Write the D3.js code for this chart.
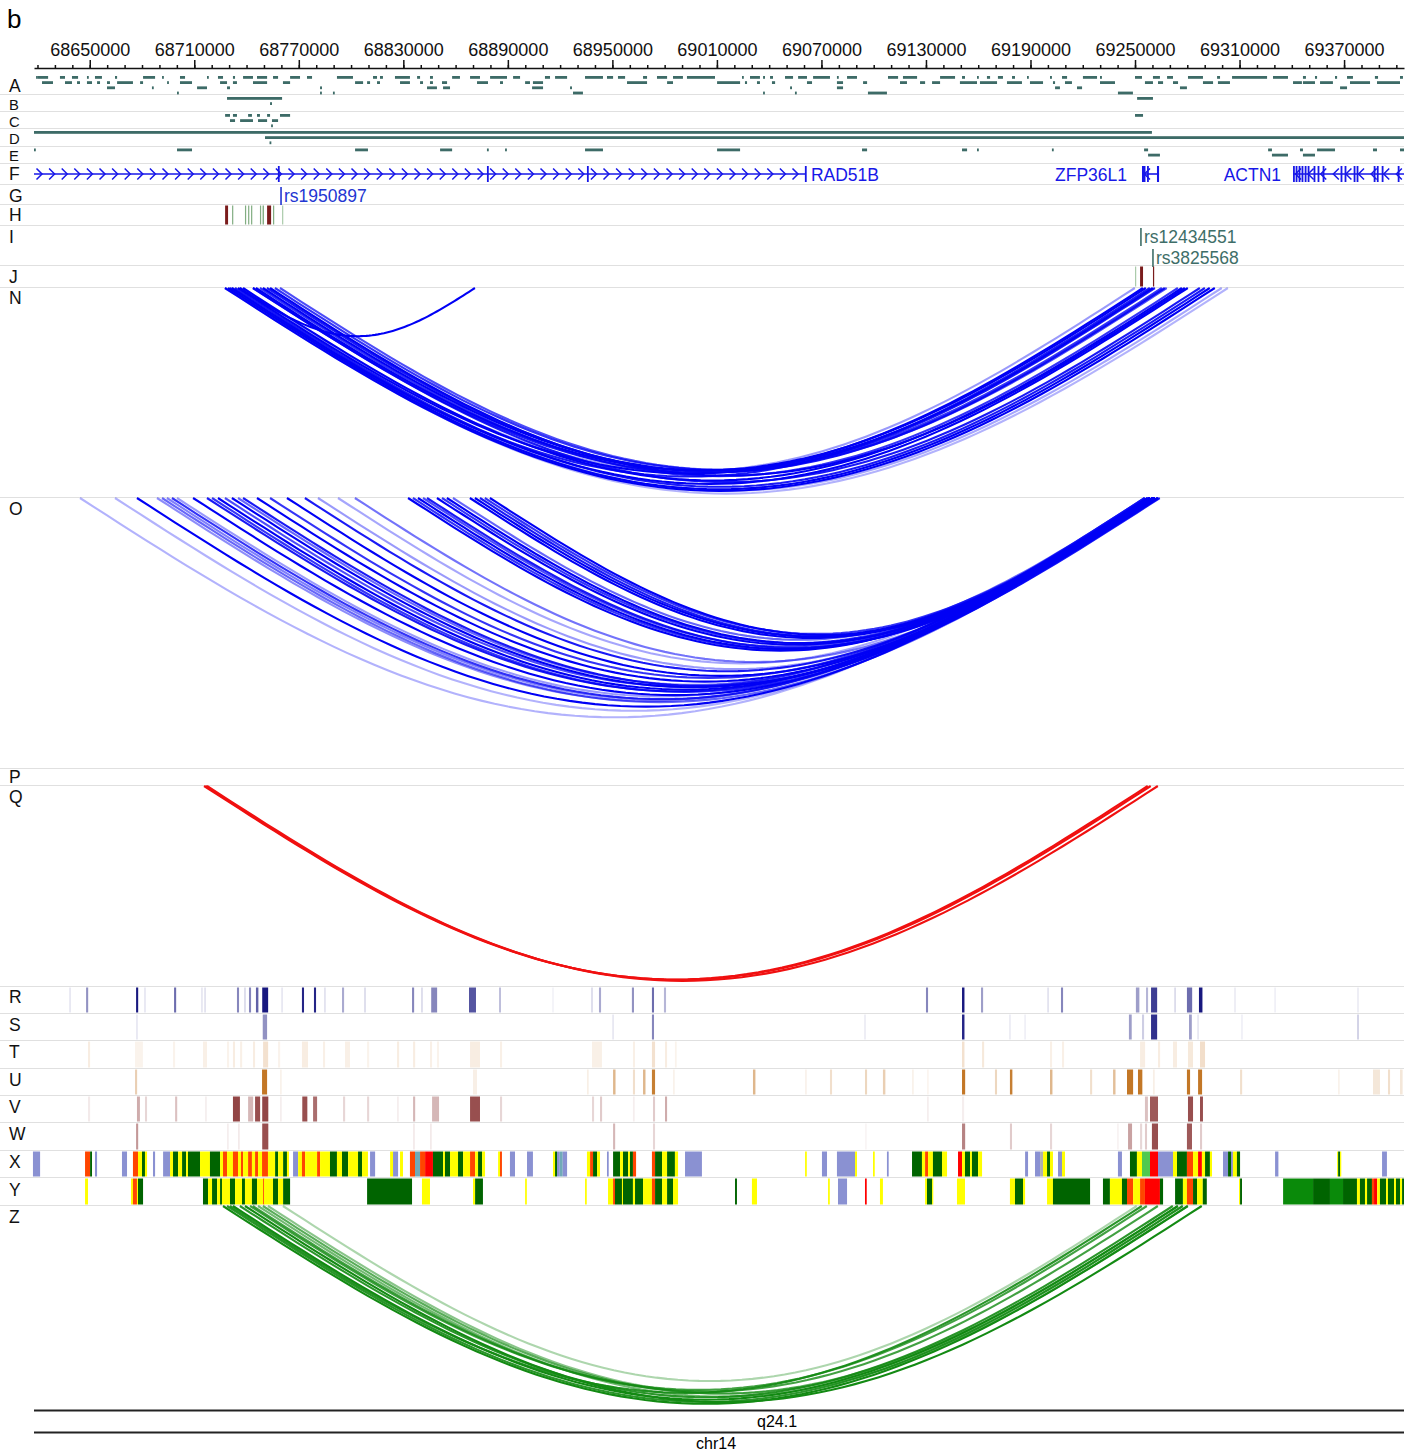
<!DOCTYPE html>
<html><head><meta charset="utf-8">
<script src="https://cdn.jsdelivr.net/npm/d3@7"></script>
<style>
body{margin:0;background:#fff}
svg{display:block}
text{font-family:Arial,"Liberation Sans",Helvetica,sans-serif}
</style></head>
<body><svg id="chart" width="1414" height="1452"></svg>
<script>
// ---------------- DATA (positions in kb on chr14) ----------------
const region = [68618.0, 69404.4];
const majorTicks = [68650,68710,68770,68830,68890,68950,69010,69070,69130,69190,69250,69310,69370];
const minorTicks = d3.range(68620, 69401, 10);
const trackLabels = ["A","B","C","D","E","F","G","H","I","J","N","O","P","Q","R","S","T","U","V","W","X","Y","Z"];

// [start, end, row]
const trackA = [
[68619.2,68619.7,0],[68620.3,68626.1,0],[68632.9,68635.8,0],[68639.8,68643.3,0],[68648.4,68649.0,0],[68653.0,68657.0,0],[68664.5,68665.7,0],[68680.6,68687.5,0],[68691.5,68692.1,0],[68701.8,68704.7,0],[68717.3,68717.9,0],[68723.6,68726.5,0],[68732.2,68733.4,0],[68738.0,68743.7,0],[68746.0,68751.8,0],[68755.2,68758.1,0],[68765.0,68770.7,0],[68774.7,68777.6,0],[68791.9,68801.1,0],[68812.6,68814.9,0],[68816.6,68818.3,0],[68825.2,68833.8,0],[68837.9,68839.6,0],[68845.3,68847.0,0],[68858.0,68862.5,0],[68868.3,68874.0,0],[68879.8,68889.5,0],[68893.0,68897.0,0],[68911.3,68914.2,0],[68917.1,68924.0,0],[68934.3,68944.6,0],[68946.9,68950.4,0],[68953.2,68957.3,0],[68967.6,68969.9,0],[68975.6,68981.4,0],[68984.8,68990.5,0],[68992.8,69008.9,0],[69024.4,69025.0,0],[69029.0,69034.7,0],[69036.5,69037.6,0],[69040.5,69042.2,0],[69049.1,69053.7,0],[69056.6,69061.7,0],[69065.2,69074.9,0],[69078.9,69079.5,0],[69084.7,69090.4,0],[69108.2,69114.0,0],[69116.8,69124.9,0],[69138.1,69146.7,0],[69150.7,69152.4,0],[69159.3,69159.9,0],[69165.0,69166.8,0],[69171.3,69174.2,0],[69179.4,69181.1,0],[69188.0,69188.6,0],[69201.2,69202.3,0],[69208.1,69211.0,0],[69220.1,69228.2,0],[69229.9,69231.0,0],[69250.0,69254.0,0],[69260.3,69264.3,0],[69268.4,69271.8,0],[69280.4,69289.0,0],[69297.1,69298.8,0],[69305.7,69325.8,0],[69329.2,69337.8,0],[69346.4,69348.1,0],[69353.3,69354.5,0],[69364.8,69366.0,0],[69371.7,69375.1,0],[69387.7,69389.5,0],[69402.1,69403.8,0],
[68622.6,68628.9,1],[68635.8,68639.8,1],[68642.7,68644.4,1],[68648.4,68651.3,1],[68654.2,68655.9,1],[68659.9,68661.6,1],[68665.7,68674.8,1],[68678.9,68680.6,1],[68694.4,68694.9,1],[68701.8,68708.7,1],[68724.8,68728.8,1],[68732.2,68734.5,1],[68743.7,68751.8,1],[68760.9,68765.0,1],[68802.3,68806.9,1],[68809.2,68810.9,1],[68814.9,68816.6,1],[68828.1,68833.8,1],[68839.6,68841.3,1],[68845.3,68847.0,1],[68852.2,68855.1,1],[68872.3,68878.6,1],[68885.5,68887.2,1],[68899.9,68902.7,1],[68904.4,68910.2,1],[68958.4,68969.9,1],[68981.4,68984.8,1],[69010.1,69023.3,1],[69026.1,69027.3,1],[69033.0,69034.7,1],[69041.6,69043.4,1],[69061.7,69064.6,1],[69078.9,69082.4,1],[69093.9,69096.2,1],[69115.1,69119.1,1],[69126.6,69129.5,1],[69133.5,69138.1,1],[69149.5,69159.3,1],[69161.0,69170.8,1],[69176.5,69185.1,1],[69189.7,69197.2,1],[69202.9,69204.1,1],[69209.8,69213.8,1],[69229.9,69238.5,1],[69255.7,69260.3,1],[69263.2,69266.1,1],[69271.8,69274.7,1],[69289.0,69294.8,1],[69297.6,69304.5,1],[69340.7,69345.8,1],[69346.4,69353.3,1],[69356.2,69363.6,1],[69373.4,69384.9,1],[69388.9,69402.1,1],
[68659.9,68664.5,2],[68685.7,68686.3,2],[68711.6,68717.3,2],[68728.8,68730.5,2],[68782.2,68783.3,2],[68843.6,68849.3,2],[68852.8,68856.8,2],[68903.9,68910.2,2],[68925.7,68926.8,2],[69052.0,69053.1,2],[69078.9,69082.4,2],[69204.1,69206.9,2],[69216.7,69219.6,2],[69275.8,69279.8,2],[69367.7,69371.7,2],
[68700.1,68700.7,3],[68782.2,68782.8,3],[68789.6,68790.2,3],[68927.4,68933.1,3],[69036.5,69037.1,3],[69054.8,69055.4,3],[69096.7,69107.6,3],[69240.2,69248.8,3]
];
const trackB = [[68728.8,68760.4,0],[68753.5,68754.6,1],[69251.2,69260.3,0]];
const trackC = [[68727.7,68730.5,0],[68732.2,68734.5,0],[68740.9,68743.1,0],[68746.0,68747.7,0],[68751.8,68753.5,0],[68759.2,68765.0,0],[69250.0,69254.6,0],
[68730.5,68733.4,1],[68736.3,68743.7,1],[68746.6,68751.8,1],[68754.6,68758.1,1],[68754.1,68754.7,2]];
const trackD = [[68618.0,69259.7,0],[68750.6,69404.4,1],[68753.2,68754.2,2]];
const trackE = [[68618.0,68618.6,0],[68700.1,68708.7,0],[68802.3,68809.7,0],[68851.1,68858.0,0],[68878.0,68879.0,0],[68888.4,68889.4,0],[68934.3,68944.6,0],[69010.1,69023.3,0],[69093.3,69096.2,0],[69150.7,69153.6,0],[69159.3,69160.0,0],[69202.3,69203.0,0],[69255.2,69257.5,0],[69326.4,69328.6,0],[69344.7,69346.4,0],[69354.5,69364.8,0],[69386.6,69388.9,0],[69402.1,69404.4,0],
[69257.5,69264.3,1],[69328.6,69337.8,1],[69346.4,69353.3,1]];

// genes
const geneNames = ["RAD51B","ZFP36L1","ACTN1"];
const geneStart = [68618.0, 69254.0, 69340.7];
const geneEnd = [69061.1, 69263.8, 69404.4];
const geneStrand = ["+","-","-"];
const geneExons = [
  [[68758.0,68758.6],[68878.0,68878.6],[68935.4,68936.0],[69060.5,69061.1]],
  [[69254.0,69256.0],[69256.9,69257.6],[69262.6,69263.8]],
  [[69340.7,69341.5],[69342.2,69343.0],[69343.9,69344.7],[69345.6,69346.4],[69347.4,69348.2],[69349.1,69349.9],[69352.5,69353.3],[69354.8,69355.6],[69357.7,69358.3],[69368.0,69368.8],[69370.3,69371.1],[69375.5,69376.3],[69377.2,69378.0],[69387.0,69387.8],[69388.8,69389.6],[69391.6,69392.2],[69400.8,69401.4]]
];

// SNPs
const snpG = [{id:"rs1950897", pos:68759.8}];
const snpI = [{id:"rs12434551", pos:69253.4},{id:"rs3825568", pos:69260.3}];
// [pos, length, class]  r = dark red, g = green, l = light green
const trackH = [[68727.7,1.7,"r"],[68731.7,0.6,"g"],[68739.1,0.6,"g"],[68740.9,0.6,"g"],[68742.6,0.6,"g"],[68747.7,0.6,"g"],[68749.2,0.8,"g"],[68751.8,2.3,"r"],[68755.2,0.6,"g"],[68760.4,0.6,"l"]];
const trackJ = [[69250.0,0.6,"l"],[69252.9,1.7,"r"],[69260.3,0.7,"r"]];

// interaction arcs [start, end, score]
const arcsN = [[68727.6,69295.8,1],[68729.4,69292.9,1],[68730.5,69258.5,.9],[68731.6,69280.3,1],[68733.4,69290.1,.9],[68735.1,69254.5,1],[68738.0,69276.9,1],[68743.7,69287.2,.9],[68745.4,69256.2,1],[68747.7,69274.6,.8],[68749.4,69260.2,1],[68751.7,69267.1,.9],[68753.5,69278.6,1],[68756.3,69265.4,.8],[68759.2,69268.2,.7],[68727.6,69303.3,.3],[68731.6,69299.8,.35],[68736.2,69249.9,.4],[68736.2,68871.1,1],[68743.7,69261.4,.9]];
const arcsO = [[68644.4,69258.5,.3],[68664.5,69260.2,.3],[68677.1,69261.4,1],[68688.6,69257.3,.45],[68691.5,69263.1,.6],[68694.3,69258.5,.5],[68697.2,69260.2,.8],[68700.1,69255.6,.4],[68709.3,69261.4,1],[68717.3,69258.5,.9],[68720.2,69263.1,.8],[68723.6,69260.2,1],[68727.6,69255.6,.7],[68731.6,69261.4,1],[68735.1,69258.5,.6],[68738.0,69264.2,.9],[68746.0,69260.2,1],[68753.5,69257.3,.8],[68763.2,69261.4,1],[68773.5,69258.5,.9],[68781.0,69260.2,.4],[68792.5,69255.6,.35],[68802.2,69261.4,.55],[68832.7,69260.2,1],[68835.5,69258.5,.8],[68838.4,69261.4,1],[68841.3,69257.3,.7],[68843.6,69263.1,.9],[68849.3,69260.2,1],[68852.2,69258.5,.8],[68855.0,69261.4,1],[68858.5,69255.6,.6],[68868.2,69260.2,1],[68871.1,69258.5,1],[68874.0,69261.4,.9],[68876.8,69257.3,.8],[68879.7,69263.1,1]];
const arcsQ = [[68715.6,69257.3,1],[68716.4,69259.0,1],[68717.3,69263.1,1]];
const arcsZ = [[68726.5,69280.3,1],[68728.8,69277.4,.9],[68730.5,69253.9,.9],[68732.2,69274.6,1],[68736.2,69271.7,.9],[68739.1,69288.3,1],[68742.0,69256.8,.8],[68743.7,69263.1,.8],[68746.6,69280.3,.6],[68749.4,69274.6,.7],[68752.3,69277.4,.5],[68760.9,69251.0,.35]];

// signal heatmaps [start, length, value 0..1]
const sigR = [[68638.2,1,.1],[68647.9,1.2,.45],[68676.6,1.2,.95],[68681.2,1,.1],[68698.4,1.2,.6],[68713.9,1,.1],[68715.7,1,.12],[68734.5,1.2,.5],[68738.6,1,.15],[68741.4,1.2,.5],[68745.4,1.4,.65],[68749.0,3.4,.95],[68759.9,1,.1],[68771.8,1.2,.9],[68778.7,1.2,.9],[68784.5,1,.12],[68794.8,1.2,.35],[68807.5,1,.15],[68835.0,1.2,.5],[68840.2,1,.15],[68846.0,3.4,.5],[68867.7,4,.7],[68885.0,1,.3],[68915.4,1,.05],[68937.8,1,.15],[68942.3,1.2,.35],[68961.2,1.2,.45],[68972.7,1.2,.6],[68979.6,1.2,.3],[69130.0,1.2,.5],[69150.7,1.4,.95],[69161.6,1.2,.4],[69199.6,1,.12],[69207.5,1.2,.5],[69250.5,2,.4],[69256.3,1.2,.3],[69259.2,3.5,.8],[69272.5,1,.15],[69279.8,3,.6],[69286.7,2,.95],[69306.9,1,.08],[69329.9,1,.06],[69377.5,1,.08]];
const sigS = [[68676.6,1,.1],[68749.3,2.5,.45],[68949.9,1,.1],[68972.7,1.2,.5],[69094.5,1,.08],[69150.7,1.4,.9],[69177.7,1,.08],[69186.4,1,.06],[69246.5,1.6,.4],[69254.0,1.2,.2],[69259.2,3.5,.85],[69281.0,1.6,.4],[69285.7,1,.1],[69310.9,1,.06],[69377.5,1,.2]];
const sigT = [[68649,1.2,.12],[68676,4.5,.08],[68697.8,1.2,.08],[68715,2.3,.1],[68728.8,1.2,.08],[68732.2,1.2,.12],[68736.3,1.2,.1],[68743.7,1.2,.12],[68749.5,2.9,.2],[68758.1,1.2,.08],[68771.8,3.5,.12],[68783.9,1.2,.1],[68796.5,2.9,.1],[68809.2,1.2,.08],[68826.4,1.2,.12],[68835.6,1.2,.12],[68845.3,1.2,.1],[68849.3,1.2,.08],[68868.3,5.7,.12],[68885.5,1.2,.1],[68938.3,5.7,.1],[68961.8,1.2,.1],[68972.7,1.8,.2],[68980.2,1.2,.12],[68985.9,1,.08],[69150.7,1.4,.2],[69162.2,1.2,.15],[69201.2,1.2,.1],[69208.1,1.2,.1],[69252.9,2.9,.12],[69263.2,1.2,.12],[69271.8,2.3,.12],[69280.4,2.9,.15],[69287.3,2.9,.22]];
const sigU = [[68676,1.2,.3],[68748.9,2.9,.85],[68759.2,1,.08],[68870,2.3,.1],[68935.4,1,.1],[68950.4,1.4,.45],[68961.8,1.2,.2],[68967.6,1.4,.45],[68972.7,1.8,.8],[68984.8,1,.08],[69030.7,1.4,.45],[69060.6,1,.08],[69074.9,1.2,.2],[69095,1.2,.25],[69105.3,1.4,.3],[69122,1,.08],[69130.6,1,.06],[69150.7,1.8,.85],[69169.6,1.2,.25],[69178.2,1.4,.8],[69201.2,1.4,.45],[69224.2,1.2,.2],[69237.4,1.4,.4],[69245.4,3.5,.85],[69251.7,2.5,.85],[69260.3,1,.1],[69279.8,1.8,.85],[69286.2,2.3,.85],[69310.3,1.2,.2],[69366.5,1,.08],[69386.6,4,.15],[69395.2,1.2,.2],[69402.1,1.5,.15]];
const sigV = [[68649,1.2,.1],[68677.1,1.7,.4],[68681.7,1.2,.2],[68699,1.2,.3],[68716.2,1,.08],[68732.2,4,.9],[68740.9,2.9,.35],[68744.9,2.9,.85],[68749,3.5,.9],[68759.2,1,.08],[68772,2.9,.85],[68778.2,2.3,.7],[68795.4,1.2,.2],[68809.2,1.2,.2],[68826.4,1,.08],[68835.6,1.2,.35],[68846.5,4,.35],[68868.3,5.7,.85],[68885.5,1.2,.2],[68938.3,1.2,.2],[68942.9,1.2,.25],[68961.8,1,.08],[68973.3,1.2,.25],[68980.2,1.2,.4],[69130.6,1,.08],[69150.7,1.2,.08],[69255.7,1.7,.3],[69258.6,4.6,.8],[69280.4,2.9,.85],[69287.3,1.7,.85]];
const sigW = [[68676.6,1.2,.5],[68728.8,1,.08],[68735.1,1,.1],[68749,3.5,.85],[68835.6,1,.1],[68845.3,1,.1],[68950.4,1.2,.35],[68973.3,1.2,.2],[69095,1,.05],[69150.7,1.8,.6],[69178.2,1.2,.25],[69201.2,1.2,.2],[69239.7,1,.06],[69246,2.3,.45],[69252.9,1.2,.2],[69255.7,1.2,.25],[69259.7,3.5,.85],[69279.8,2.9,.8],[69287.3,1.2,.25]];

// chromatin states [start, end, state]
const stateX = [[68617.4,68621.5,"B"],[68647.3,68650.2,"O"],[68650.2,68651.3,"G"],[68653.0,68654.2,"B"],[68668.5,68671.4,"B"],[68674.8,68677.7,"O"],[68677.7,68680.0,"Y"],[68680.0,68681.7,"G"],[68681.7,68682.9,"Y"],[68686.3,68687.5,"B"],[68692.1,68696.1,"B"],[68696.1,68697.8,"Y"],[68697.8,68700.7,"G"],[68700.7,68703.0,"Y"],[68703.0,68705.3,"G"],[68705.3,68706.4,"Y"],[68706.4,68713.3,"G"],[68713.3,68719.0,"Y"],[68719.0,68724.8,"G"],[68724.8,68726.5,"Y"],[68726.5,68728.8,"O"],[68728.8,68732.2,"Y"],[68732.2,68735.1,"O"],[68735.1,68736.8,"Y"],[68736.8,68738.0,"O"],[68738.0,68740.9,"Y"],[68740.9,68743.1,"O"],[68743.1,68744.9,"Y"],[68744.9,68746.6,"O"],[68746.6,68748.9,"Y"],[68748.9,68752.3,"O"],[68752.3,68756.4,"Y"],[68756.4,68758.1,"G"],[68758.1,68761.0,"Y"],[68761.0,68763.2,"G"],[68763.2,68764.4,"Y"],[68766.7,68769.6,"B"],[68769.6,68771.8,"Y"],[68771.8,68773.6,"O"],[68773.6,68780.5,"Y"],[68780.5,68782.2,"O"],[68782.2,68787.9,"Y"],[68787.9,68791.9,"G"],[68791.9,68794.8,"Y"],[68794.8,68798.3,"G"],[68798.3,68804.0,"Y"],[68804.0,68806.3,"G"],[68806.3,68809.7,"Y"],[68810.9,68813.8,"B"],[68822.4,68824.1,"Y"],[68824.1,68827.0,"B"],[68828.1,68829.8,"Y"],[68833.8,68836.7,"O"],[68836.7,68839.6,"T"],[68839.6,68842.5,"O"],[68842.5,68847.0,"R"],[68847.0,68852.8,"G"],[68852.8,68853.9,"Y"],[68853.9,68856.8,"G"],[68856.8,68861.4,"Y"],[68861.4,68864.3,"G"],[68864.3,68868.3,"Y"],[68868.3,68871.2,"O"],[68871.2,68872.9,"Y"],[68872.9,68875.2,"G"],[68875.2,68876.9,"Y"],[68884.4,68885.5,"Y"],[68885.5,68886.6,"O"],[68891.2,68894.1,"B"],[68901.0,68904.4,"B"],[68915.9,68917.1,"Y"],[68917.1,68918.2,"G"],[68918.2,68919.8,"B"],[68919.8,68921.5,"T"],[68921.5,68924.0,"B"],[68935.4,68937.2,"Y"],[68937.2,68938.9,"O"],[68938.9,68941.2,"G"],[68941.2,68942.9,"Y"],[68946.9,68947.9,"B"],[68950.4,68954.4,"G"],[68954.4,68956.1,"Y"],[68956.1,68959.0,"G"],[68959.0,68960.1,"Y"],[68960.1,68961.8,"G"],[68961.8,68963.6,"O"],[68972.7,68974.5,"O"],[68974.5,68978.5,"G"],[68978.5,68981.4,"Y"],[68981.4,68985.9,"G"],[68985.9,68987.7,"Y"],[68991.7,69001.4,"B"],[69060.6,69061.6,"Y"],[69070.3,69073.2,"B"],[69078.9,69089.3,"B"],[69089.3,69090.4,"Y"],[69099.6,69100.6,"Y"],[69107.6,69108.6,"B"],[69122.0,69127.7,"G"],[69127.7,69129.5,"Y"],[69129.5,69131.2,"O"],[69131.2,69134.0,"Y"],[69134.0,69139.2,"G"],[69139.2,69142.1,"Y"],[69148.4,69150.7,"R"],[69150.7,69152.4,"Y"],[69152.4,69155.3,"G"],[69155.3,69156.4,"Y"],[69156.4,69159.9,"G"],[69159.9,69162.2,"Y"],[69186.9,69188.6,"B"],[69192.6,69195.5,"B"],[69195.5,69197.2,"K"],[69197.2,69199.5,"Y"],[69199.5,69201.2,"G"],[69201.2,69202.9,"Y"],[69205.8,69208.1,"B"],[69208.1,69209.8,"Y"],[69240.2,69242.5,"B"],[69247.1,69251.1,"G"],[69251.1,69254.0,"Y"],[69254.0,69258.6,"L"],[69258.6,69263.2,"R"],[69263.2,69271.8,"B"],[69271.8,69274.1,"Y"],[69274.1,69279.8,"G"],[69279.8,69283.3,"O"],[69283.3,69286.2,"Y"],[69286.2,69288.4,"R"],[69288.4,69290.2,"Y"],[69290.2,69293.0,"G"],[69293.0,69294.2,"Y"],[69300.5,69303.4,"B"],[69303.4,69305.1,"G"],[69305.1,69306.2,"B"],[69306.2,69308.5,"Y"],[69308.5,69310.3,"G"],[69330.4,69332.3,"B"],[69366.0,69366.6,"Y"],[69366.6,69367.7,"G"],[69367.7,69368.3,"Y"],[69391.8,69394.6,"B"]];
const stateY = [[68647.3,68649.0,"Y"],[68673.7,68674.8,"Y"],[68674.8,68677.1,"O"],[68677.1,68677.7,"Y"],[68677.7,68680.6,"G"],[68715.0,68717.9,"G"],[68717.9,68720.2,"Y"],[68720.2,68723.1,"G"],[68723.1,68724.8,"Y"],[68724.8,68725.9,"G"],[68725.9,68730.5,"Y"],[68730.5,68733.4,"G"],[68733.4,68737.4,"Y"],[68737.4,68739.1,"G"],[68739.1,68743.1,"Y"],[68743.1,68746.0,"G"],[68746.0,68749.5,"Y"],[68749.5,68750.0,"O"],[68750.0,68755.2,"Y"],[68755.2,68758.1,"G"],[68758.1,68761.0,"Y"],[68761.0,68765.0,"G"],[68809.2,68835.0,"G"],[68840.7,68845.3,"Y"],[68870.0,68871.2,"Y"],[68871.2,68875.7,"G"],[68899.9,68900.9,"Y"],[68934.3,68935.3,"Y"],[68947.5,68950.4,"Y"],[68950.4,68951.5,"O"],[68951.5,68955.5,"G"],[68955.5,68956.1,"Y"],[68956.1,68961.8,"G"],[68961.8,68963.0,"Y"],[68963.0,68967.6,"G"],[68967.6,68972.7,"Y"],[68972.7,68974.5,"O"],[68974.5,68978.5,"G"],[68978.5,68981.4,"Y"],[68981.4,68984.8,"G"],[68984.8,68987.7,"Y"],[69020.4,69021.5,"G"],[69030.1,69033.0,"Y"],[69073.8,69074.8,"Y"],[69079.5,69084.7,"B"],[69095.0,69096.0,"R"],[69103.6,69105.3,"Y"],[69129.5,69130.6,"Y"],[69130.6,69133.5,"G"],[69133.5,69134.0,"Y"],[69147.8,69152.4,"Y"],[69178.2,69181.1,"Y"],[69181.1,69185.7,"G"],[69185.7,69186.9,"Y"],[69199.5,69202.9,"Y"],[69202.9,69224.2,"G"],[69231.6,69235.6,"G"],[69235.6,69242.5,"Y"],[69242.5,69245.4,"G"],[69245.4,69248.9,"O"],[69248.9,69252.9,"Y"],[69252.9,69255.7,"O"],[69255.7,69264.3,"R"],[69264.3,69266.1,"G"],[69273.0,69277.5,"G"],[69277.5,69279.8,"Y"],[69279.8,69283.3,"O"],[69283.3,69285.6,"G"],[69285.6,69288.9,"Y"],[69288.9,69291.2,"G"],[69309.7,69310.3,"Y"],[69310.3,69311.4,"G"],[69335.0,69352.2,"g"],[69352.2,69361.9,"G"],[69361.9,69369.4,"g"],[69369.4,69377.4,"G"],[69377.4,69379.1,"Y"],[69379.1,69382.0,"G"],[69382.0,69383.2,"Y"],[69383.2,69386.0,"G"],[69386.0,69387.2,"O"],[69387.2,69389.0,"R"],[69389.0,69390.6,"Y"],[69390.6,69394.1,"G"],[69394.1,69395.2,"Y"],[69395.2,69398.7,"G"],[69398.7,69399.8,"Y"],[69399.8,69402.1,"G"],[69402.1,69403.3,"Y"],[69403.3,69404.4,"G"]];

// ideogram labels
const ideoBand = {name:"q24.1", pos:69044.5};
const ideoChrom = {name:"chr14", pos:69009.5};

// ---------------- LAYOUT ----------------
const X0 = 34, X1 = 1404;
const svg = d3.select("#chart");
const x = d3.scaleLinear().domain(region).range([X0, X1]);

const tracks = {
  A:[70,94],B:[94,111],C:[111,128],D:[128,146],E:[146,163],F:[163,184],G:[184,204],H:[204,225],
  I:[225,265],J:[265,287],N:[287,497],O:[497,768],P:[768,785],Q:[785,986],R:[986,1013],S:[1013,1040],
  T:[1040,1068],U:[1068,1095],V:[1095,1122],W:[1122,1150],X:[1150,1177],Y:[1177,1205],Z:[1205,1410]
};
const labelY = {A:92,B:109.5,C:126.5,D:143.5,E:160.5,F:180,G:202,H:221,I:243,J:283,N:304,O:515,P:783,Q:803,R:1003,S:1031,T:1058,U:1086,V:1113,W:1140,X:1168,Y:1196,Z:1223};
const tightLabels = new Set(["B","C","D","E"]);

// panel letter
svg.append("text").attr("x",7).attr("y",28).attr("font-size",26).text("b");

// separators
const seps = [94,111,128,146,163,184,204,225,265,287,497,768,785,986,1013,1040,1068,1095,1122,1150,1177,1205];
svg.append("g").selectAll("line").data(seps).join("line")
  .attr("x1",0).attr("x2",X1).attr("y1",d=>d+0.5).attr("y2",d=>d+0.5)
  .attr("stroke","#e0e0e0").attr("stroke-width",1.2);

// axis
const axY = 68;
const gMinor = svg.append("g").attr("transform",`translate(0,${axY})`)
  .call(d3.axisTop(x).tickValues(minorTicks).tickSize(3).tickSizeOuter(0).tickFormat(""));
gMinor.select(".domain").remove();
gMinor.selectAll("line").attr("stroke","#111").attr("stroke-width",1.5);
const gMajor = svg.append("g").attr("transform",`translate(0,${axY})`)
  .call(d3.axisTop(x).tickValues(majorTicks).tickSize(8).tickSizeOuter(0).tickPadding(4).tickFormat(d=>d3.format("d")(Math.round(d*1000))));
gMajor.select(".domain").attr("stroke","#111").attr("stroke-width",1.6);
gMajor.selectAll("line").attr("stroke","#111").attr("stroke-width",1.5);
gMajor.selectAll("text").attr("font-size",18).attr("fill","#111").attr("font-family","Arial, 'Liberation Sans', sans-serif");

// track labels
svg.append("g").selectAll("text").data(trackLabels).join("text")
  .attr("x",9).attr("y",d=>labelY[d]).attr("font-size",d=>tightLabels.has(d)?14.8:17.5).attr("fill","#111").text(d=>d);

// feature tracks A-E
const featColor = "#3d6b67";
function features(data, rowStart){
  svg.append("g").selectAll("rect").data(data).join("rect")
    .attr("x",d=>x(d[0])).attr("width",d=>Math.max(1.8, x(d[1])-x(d[0])))
    .attr("y",d=>rowStart + d[2]*5.2).attr("height",2.8).attr("fill",featColor);
}
features(trackA,76);
features(trackB,97);
features(trackC,114);
features(trackD,131);
features(trackE,148.5);

// gene track F
const geneY = 174, geneCol = "#1717e8";
const gGenes = svg.append("g");
geneNames.forEach((name,i)=>{
  const xs = x(geneStart[i]), xe = x(geneEnd[i]);
  gGenes.append("line").attr("x1",xs).attr("x2",xe).attr("y1",geneY).attr("y2",geneY)
    .attr("stroke",geneCol).attr("stroke-width",1.6);
  const step = 12.6;
  const chev = [];
  for(let p = xs+7; p < xe-3; p += step) chev.push(p);
  gGenes.append("g").selectAll("path").data(chev).join("path")
    .attr("d",p=> geneStrand[i]==="+" ? `M${p-4.5},${geneY-5.5}L${p+1},${geneY}L${p-4.5},${geneY+5.5}` : `M${p+1},${geneY-5.5}L${p-4.5},${geneY}L${p+1},${geneY+5.5}`)
    .attr("fill","none").attr("stroke",geneCol).attr("stroke-width",1.5);
  gGenes.append("g").selectAll("rect").data(geneExons[i]).join("rect")
    .attr("x",d=>x(d[0])).attr("width",d=>Math.max(1.8,x(d[1])-x(d[0])))
    .attr("y",geneY-8).attr("height",16).attr("fill",geneCol);
  const t = gGenes.append("text").attr("font-size",17.5).attr("fill",geneCol).attr("y",geneY+7).text(name);
  if(i===0) t.attr("x",xe+5).attr("text-anchor","start");
  else t.attr("x",xs-(i===1?15:12)).attr("text-anchor","end");
});

// SNP tracks G and I
function snps(data, color, y0s){
  data.forEach((s,i)=>{
    const px = x(s.pos), y0 = y0s[i];
    svg.append("line").attr("x1",px).attr("x2",px).attr("y1",y0).attr("y2",y0+18)
      .attr("stroke",color).attr("stroke-width",1.6);
    svg.append("text").attr("x",px+3).attr("y",y0+15).attr("font-size",17.5).attr("fill",color).text(s.id);
  });
}
snps(snpG, "#2236d2", [187]);
snps(snpI, "#3e6e68", [228, 249]);

// H and J tick tracks
const tickCols = {r:"#7a1c1c", g:"#82ad82", l:"#aacbaa"};
function ticks(data, key){
  const [t,b] = tracks[key];
  svg.append("g").selectAll("rect").data(data).join("rect")
    .attr("x",d=>x(d[0])).attr("width",d=>Math.max(1.2, x(d[0]+d[1])-x(d[0])))
    .attr("y",t+1.5).attr("height",b-t-2).attr("fill",d=>tickCols[d[2]]);
}
ticks(trackH,"H");
ticks(trackJ,"J");

// arcs
function arcs(data, key, color){
  const top = tracks[key][0] + 1;
  const line = d3.line();
  svg.append("g").selectAll("path").data(data).join("path")
    .attr("d",d=>{
      const a = x(d[0]), b = x(d[1]), depth = 0.205*(b-a);
      const pts = d3.range(0,81).map(k=>{const t=k/80; return [a+(b-a)*t, top + depth*Math.sin(Math.PI*t)];});
      return line(pts);
    })
    .attr("fill","none").attr("stroke",color).attr("stroke-width",2.1)
    .attr("stroke-opacity",d=>d[2]);
}
arcs(arcsN,"N","#0000f5");
arcs(arcsO,"O","#0000f5");
arcs(arcsQ,"Q","#f01010");
arcs(arcsZ,"Z","#138a13");

// heatmaps
function heat(data, key, dark){
  const [t,b] = tracks[key];
  const c = d3.interpolateRgb("#ffffff", dark);
  svg.append("g").selectAll("rect").data(data).join("rect")
    .attr("x",d=>x(d[0])).attr("width",d=>Math.max(1.2, x(d[0]+d[1])-x(d[0])))
    .attr("y",t+1.5).attr("height",b-t-2).attr("fill",d=>c(d[2]));
}
heat(sigR,"R","#0c0c78");
heat(sigS,"S","#0c0c78");
heat(sigT,"T","#c56a10");
heat(sigU,"U","#b85f00");
heat(sigV,"V","#863030");
heat(sigW,"W","#863030");

const stateCol = {Y:"#ffff00",G:"#006400",g:"#0a8a0a",O:"#ff4500",R:"#ff0000",B:"#8a91d2",L:"#4fc94f",T:"#70aab8",K:"#b0b0b0"};
function states(data, key){
  const [t,b] = tracks[key];
  svg.append("g").selectAll("rect").data(data).join("rect")
    .attr("x",d=>x(d[0])).attr("width",d=>Math.max(1.2, x(d[1])-x(d[0])))
    .attr("y",t+1.5).attr("height",b-t-2).attr("fill",d=>stateCol[d[2]]);
}
states(stateX,"X");
states(stateY,"Y");

// ideogram
svg.append("line").attr("x1",X0).attr("x2",X1).attr("y1",1410.5).attr("y2",1410.5).attr("stroke","#222").attr("stroke-width",2.2);
svg.append("line").attr("x1",X0).attr("x2",X1).attr("y1",1432.5).attr("y2",1432.5).attr("stroke","#222").attr("stroke-width",2.2);
svg.append("text").attr("x",x(ideoBand.pos)).attr("y",1427).attr("text-anchor","middle")
  .attr("font-size",16).attr("font-family","'Liberation Sans Narrow','Arial Narrow',Arial,sans-serif").text(ideoBand.name);
svg.append("text").attr("x",x(ideoChrom.pos)).attr("y",1449).attr("text-anchor","middle")
  .attr("font-size",16).attr("font-family","'Liberation Sans Narrow','Arial Narrow',Arial,sans-serif").text(ideoChrom.name);
</script>
</body></html>
